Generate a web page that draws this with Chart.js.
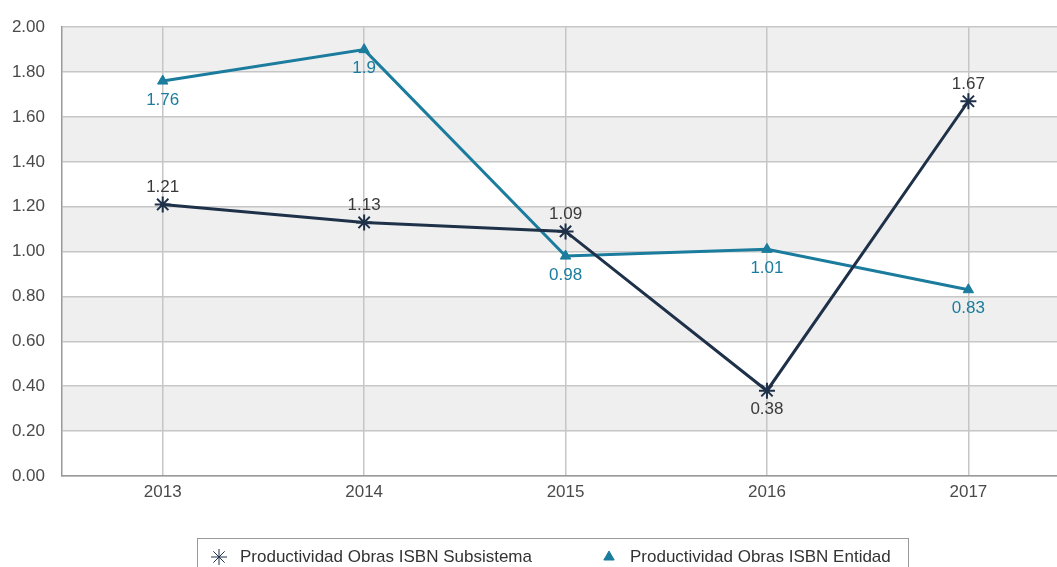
<!DOCTYPE html>
<html>
<head>
<meta charset="utf-8">
<script src="https://cdn.jsdelivr.net/npm/chart.js@4.4.0/dist/chart.umd.min.js"></script>
<style>
  html, body { margin: 0; padding: 0; background: #fff; overflow: hidden; }
  #wrap { position: relative; width: 1057px; height: 567px; overflow: hidden; }
  #legend {
    position: absolute; left: 197px; top: 538px; width: 712px; height: 44px;
    border: 1.5px solid #9a9a9a; box-sizing: border-box;
    font: 17px "Liberation Sans", Arial, sans-serif; color: #333;
    display: flex; align-items: flex-start; justify-content: flex-start;
    padding-top: 8px; padding-left: 12px; white-space: nowrap;
  }
  #legend .item { display: flex; align-items: center; flex: none; }
  #legend .item + .item { margin-left: 68px; }
  #legend canvas { margin-right: 12px; flex: none; }
</style>
</head>
<body>
<div id="wrap">
  <canvas id="chart" width="1057" height="567"></canvas>
  <div id="legend"></div>
</div>
<script>
const years = [2013, 2014, 2015, 2016, 2017];
const subsistema = [1.21, 1.13, 1.09, 0.38, 1.67];
const entidad = [1.76, 1.9, 0.98, 1.01, 0.83];
const yTickLabels = ['0.00', '0.20', '0.40', '0.60', '0.80', '1.00', '1.20', '1.40', '1.60', '1.80', '2.00'];

const NAVY = '#1e3149';
const TEAL = '#1b7c9d';
const FONT = '"Liberation Sans", Arial, sans-serif';

// alternating grey bands behind the grid
const bandsPlugin = {
  id: 'bands',
  beforeDraw(chart) {
    const { ctx, chartArea, scales: { y } } = chart;
    ctx.save();
    ctx.fillStyle = '#efefef';
    for (let i = 1; i < yTickLabels.length - 1; i += 2) {
      const top = y.getPixelForValue(parseFloat(yTickLabels[i + 1]));
      const bot = y.getPixelForValue(parseFloat(yTickLabels[i]));
      ctx.fillRect(chartArea.left, top, chartArea.right - chartArea.left, bot - top);
    }
    ctx.restore();
  }
};

// value labels next to each point
const valueLabels = {
  id: 'valueLabels',
  afterDatasetsDraw(chart) {
    const { ctx } = chart;
    ctx.save();
    ctx.font = '17px ' + FONT;
    ctx.textAlign = 'center';
    ctx.textBaseline = 'middle';
    chart.data.datasets.forEach((ds, di) => {
      const meta = chart.getDatasetMeta(di);
      meta.data.forEach((pt, i) => {
        const below = ds.labelBelow(ds.data, i);
        ctx.fillStyle = ds.labelColor;
        ctx.fillText(String(ds.data[i].y), pt.x, pt.y + (below ? 19 : -17));
      });
    });
    ctx.restore();
  }
};

const isLocalMin = (data, i) =>
  (i === 0 || data[i].y < data[i - 1].y) && (i === data.length - 1 || data[i].y < data[i + 1].y);

const datasets = [
  {
    label: 'Productividad Obras ISBN Subsistema',
    data: years.map((x, i) => ({ x, y: subsistema[i] })),
    borderColor: NAVY,
    backgroundColor: NAVY,
    borderWidth: 3,
    pointStyle: 'star',
    pointRadius: 8,
    pointBorderWidth: 2,
    labelColor: '#3a3a3a',
    labelBelow: isLocalMin
  },
  {
    label: 'Productividad Obras ISBN Entidad',
    data: years.map((x, i) => ({ x, y: entidad[i] })),
    borderColor: TEAL,
    backgroundColor: TEAL,
    borderWidth: 3,
    pointStyle: 'triangle',
    pointRadius: 6,
    pointBorderWidth: 1,
    labelColor: TEAL,
    labelBelow: () => true
  }
];

new Chart(document.getElementById('chart'), {
  type: 'line',
  data: { datasets },
  options: {
    responsive: false,
    animation: false,
    layout: { autoPadding: false, padding: { top: 22, right: 0, bottom: 0, left: 0 } },
    plugins: { legend: { display: false }, tooltip: { enabled: false } },
    scales: {
      x: {
        type: 'linear',
        min: 2012.5,
        max: 2017.44,
        afterFit(scale) {
          scale.height = 91;
          scale.paddingRight = 0;
          scale.paddingLeft = 0;
        },
        ticks: {
          stepSize: 1,
          includeBounds: false,
          color: '#4a4a4a',
          font: { size: 17, family: FONT },
          padding: 6,
          callback: v => String(v)
        },
        grid: { color: '#c6c6c6', lineWidth: 1.5, drawTicks: false },
        border: { color: '#999', width: 1.5 }
      },
      y: {
        min: 0,
        max: 2,
        afterFit(scale) { scale.width = 62; },
        ticks: {
          stepSize: 0.2,
          color: '#4a4a4a',
          font: { size: 17, family: FONT },
          padding: 17,
          callback: (v, i) => yTickLabels[i]
        },
        grid: { color: '#c6c6c6', lineWidth: 1.5, drawTicks: false },
        border: { color: '#999', width: 1.5 }
      }
    }
  },
  plugins: [bandsPlugin, valueLabels]
});

// HTML legend with markers drawn by Chart.js helpers
const legend = document.getElementById('legend');
datasets.forEach(ds => {
  const item = document.createElement('div');
  item.className = 'item';
  const c = document.createElement('canvas');
  c.width = 18; c.height = 18;
  const cx = c.getContext('2d');
  cx.strokeStyle = ds.borderColor;
  cx.fillStyle = ds.backgroundColor;
  Chart.helpers.drawPoint(cx, { pointStyle: ds.pointStyle, radius: ds.pointStyle === 'star' ? 8 : 6, borderWidth: ds.pointBorderWidth }, 9, 9);
  item.appendChild(c);
  const span = document.createElement('span');
  span.textContent = ds.label;
  item.appendChild(span);
  legend.appendChild(item);
});
</script>
</body>
</html>
